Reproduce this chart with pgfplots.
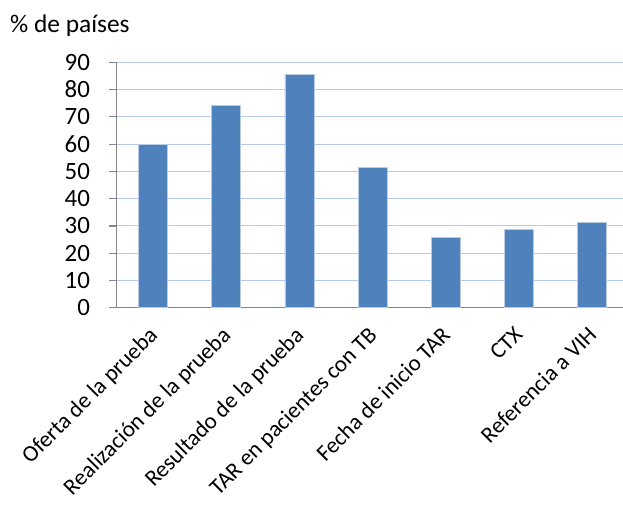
\documentclass[border=0pt]{standalone}
\usepackage{pgfplots}
\pgfplotsset{compat=1.18}
\usepackage{fontspec}
\setmainfont{Carlito}
\definecolor{barblue}{RGB}{79,129,189}
\definecolor{baredge}{RGB}{185,205,229}
\definecolor{gridblue}{RGB}{180,202,234}
\definecolor{axgray}{RGB}{134,134,134}
\begin{document}
\begin{tikzpicture}
\path[use as bounding box] (-116.4bp,-198.3bp) rectangle (506.6bp,307.7bp);
\begin{axis}[
  at={(0,0)}, anchor=south west,
  scale only axis, width=506.6bp, height=245.4bp,
  xmin=-0.5, xmax=6.42, ymin=0, ymax=90,
  ytick={0,10,...,90},
  /pgf/number format/assume math mode=true,
  ymajorgrids, grid style={gridblue, line width=1.1pt},
  axis x line*=bottom, axis y line*=left,
  axis line style={axgray, line width=1.2pt},
  tick align=outside, major tick length=7bp, minor tick length=7bp,
  ytick style={axgray, line width=1.2pt},
  xtick={0,1,2,3,4,5,6},
  xtick style={draw=none},
  minor xtick={-0.5,0.5,1.5,2.5,3.5,4.5,5.5},
  minor x tick style={axgray, line width=1.2pt},
  xticklabels={Oferta de la prueba, Realización de la prueba, Resultado de la prueba, TAR en pacientes con TB, Fecha de inicio TAR, CTX, Referencia a VIH},
  xticklabel style={rotate=45, anchor=north east, font=\fontsize{23}{26}\selectfont, inner sep=1pt, xshift=-10.4bp, yshift=-2.4bp},
  yticklabel style={font=\fontsize{25}{28}\selectfont, xshift=-16bp},
  clip=false,
]
\addplot[ybar, bar width=0.396, fill=barblue, draw=baredge, line width=0.6pt]
  coordinates {(0,60.0) (1,74.3) (2,85.7) (3,51.4) (4,25.7) (5,28.6) (6,31.4)};
\end{axis}
\node[anchor=base west, inner sep=0pt, font=\fontsize{25.5}{28}\selectfont] at (-106.4bp,274.7bp) {\% de países};
\end{tikzpicture}
\end{document}
